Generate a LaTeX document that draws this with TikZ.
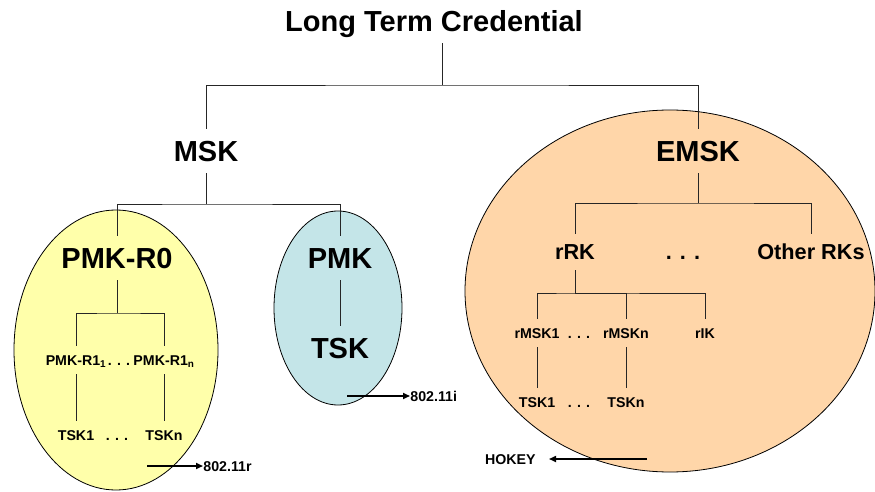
\documentclass[tikz,border=0pt]{standalone}
\usepackage{fontspec}
\setmainfont{Liberation Sans}
\usetikzlibrary{arrows.meta, shapes.geometric}
\definecolor{cyellow}{HTML}{FFFFAA}
\definecolor{cteal}{HTML}{C4E5E8}
\definecolor{corange}{HTML}{FFD6A9}
\tikzset{
  every picture/.style={font=\bfseries, line width=0.9pt},
  zone/.style={ellipse, draw=black, fill=#1, line width=0.8pt, inner sep=0pt},
  big/.style={font=\fontsize{29}{31}\selectfont\bfseries, text height=21pt, text depth=0pt, minimum height=44pt, inner sep=0pt},
  mid/.style={font=\fontsize{21.7}{24}\selectfont\bfseries, text height=15.5pt, text depth=0pt, minimum height=36pt, inner sep=0pt},
  small/.style={font=\fontsize{14.2}{16}\selectfont\bfseries, text height=10.2pt, text depth=0pt, minimum height=28pt, inner sep=0pt},
  link/.style={draw=black!85, line width=0.9pt},
  arrow/.style={-{Triangle[length=7pt, width=6pt]}, line width=1.6pt},
}

\begin{document}
\begin{tikzpicture}[x=1pt, y=-1pt]
  \useasboundingbox (0,0) rectangle (875,492);
  \node[zone=cyellow, minimum width=204, minimum height=280] (zoneR) at (116,350) {};
  \node[zone=cteal, minimum width=128, minimum height=194] (zoneI) at (338,308) {};
  \node[zone=corange, minimum width=410, minimum height=362] (zoneE) at (670,291) {};

  \node[big] (ltc) at (434,21) {Long Term Credential};
  \node[big] (msk) at (206,151) {MSK};
  \node[big] (emsk) at (698,151) {EMSK};
  \node[big] (pmkr) at (117,258) {PMK-R0};
  \node[big] (pmk) at (340,258) {PMK};
  \node[big] (tsk) at (340,348) {TSK};
  \node[mid] (rrk) at (575,252) {rRK};
  \node[mid] (dotsE) at (683,252) {. . .};
  \node[mid] (orks) at (811,252) {Other RKs};
  \foreach \n/\x/\y/\t in {r1a/76/360/PMK-R1\textsubscript{1}, r1n/164/360/PMK-R1\textsubscript{n},
      dotsA/119/360/. . ., tska/76/435/TSK1, tskn/164/435/TSKn, dotsB/117/435/. . .,
      rmska/537/333/rMSK1, rmskn/626/333/rMSKn, rik/705/333/rIK, dotsC/579/333/. . .,
      tskb/537/402/TSK1, tsknb/626/402/TSKn, dotsD/579/402/. . .}
    \node[small] (\n) at (\x,\y) {\t};

  \coordinate (j0) at (442,85);
  \coordinate (j1) at (206,204);
  \coordinate (j2) at (117,313);
  \coordinate (j3) at (698,203);
  \coordinate (j4) at (575,293);
  \draw[link] (ltc.south -| j0) -- (j0);
  \draw[link] (msk) |- (j0) -| (emsk);
  \draw[link] (msk) -- (j1);
  \draw[link] (pmkr) |- (j1) -| (pmk);
  \draw[link] (pmk) -- (tsk);
  \draw[link] (pmkr) -- (j2);
  \draw[link] (r1a) |- (j2) -| (r1n);
  \draw[link] (r1a) -- (tska);
  \draw[link] (r1n) -- (tskn);
  \draw[link] (emsk) -- (j3);
  \draw[link] (rrk) |- (j3) -| (orks);
  \draw[link] (rrk) -- (j4);
  \draw[link] (rmska) |- (j4) -| (rik);
  \draw[link] (j4) -| (rmskn);
  \draw[link] (rmska) -- (tskb);
  \draw[link] (rmskn) -- (tsknb);

  \coordinate (r0) at (147,466);
  \coordinate (i0) at (347,396);
  \coordinate (h0) at (647,459);
  \node[small, anchor=west] (r802) at (203,466) {802.11r};
  \node[small, anchor=west] (i802) at (410,396) {802.11i};
  \node[small, anchor=east] (hokey) at (536,459) {HOKEY};
  \draw[arrow] (r0) -- (r802.west);
  \draw[arrow] (i0) -- (i802.west);
  \draw[arrow] (h0) -- ([xshift=13pt]hokey.east);
\end{tikzpicture}
\end{document}
